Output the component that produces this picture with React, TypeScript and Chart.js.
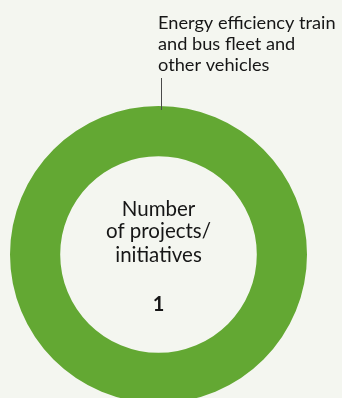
import React, { useEffect, useRef } from "react";
import { Chart, registerables } from "chart.js";

Chart.register(...registerables);

const categories = ["Energy efficiency train and bus fleet and other vehicles"];
const values = [1];
const labelLines = ["Energy efficiency train", "and bus fleet and", "other vehicles"];
const centerLines = ["Number", "of projects/", "initiatives"];

const BG = "#f4f6f0";
const GREEN = "#63a833";
const TEXT = "#161616";
const FONT = "Lato, 'Noto Sans', sans-serif";

const annotate = {
  id: "annotate",
  afterDraw(chart: any) {
    const arc = chart.getDatasetMeta(0).data[0];
    if (!arc) return;
    const { x, y, outerRadius } = arc.getProps(["x", "y", "outerRadius"], true);
    const ctx = chart.ctx;
    ctx.save();
    const top = y - outerRadius;
    // leader line
    ctx.strokeStyle = "#4a4a4a";
    ctx.lineWidth = 1;
    ctx.beginPath();
    ctx.moveTo(Math.round(x + 2.5) + 0.5, top - 28);
    ctx.lineTo(Math.round(x + 2.5) + 0.5, top + 4);
    ctx.stroke();
    // label text
    ctx.fillStyle = TEXT;
    ctx.textAlign = "left";
    ctx.textBaseline = "alphabetic";
    ctx.font = `400 18.2px ${FONT}`;
    const lx = x - 0.5;
    labelLines.forEach((l, i) => ctx.fillText(l, lx, top - 77 + i * 21));
    // center text
    ctx.textAlign = "center";
    ctx.font = `400 20.5px ${FONT}`;
    const offs = [-38.8, -16.2, 7.2];
    centerLines.forEach((l, i) => ctx.fillText(l, x, y + offs[i]));
    ctx.font = `700 20px ${FONT}`;
    const total = values.reduce((a, b) => a + b, 0);
    ctx.fillText(String(total), x, y + 56.2);
    ctx.restore();
  },
};

export default function App() {
  const ref = useRef<HTMLCanvasElement>(null);
  useEffect(() => {
    document.body.style.margin = "0";
    document.body.style.background = BG;
    const chart = new Chart(ref.current!, {
      type: "doughnut",
      data: {
        labels: categories,
        datasets: [
          {
            data: values,
            backgroundColor: [GREEN],
            borderWidth: 0,
            hoverOffset: 0,
          },
        ],
      },
      options: {
        responsive: false,
        animation: false,
        devicePixelRatio: 1,
        cutout: "66.2%",
        layout: { padding: { left: 10, right: 35, top: 106, bottom: 17 } },
        plugins: {
          legend: { display: false },
          tooltip: { enabled: false },
        },
      },
      plugins: [annotate],
    });
    return () => chart.destroy();
  }, []);
  return (
    <div style={{ width: 342, height: 398, overflow: "hidden", background: BG }}>
      <canvas ref={ref} width={342} height={420} style={{ display: "block" }} />
    </div>
  );
}
